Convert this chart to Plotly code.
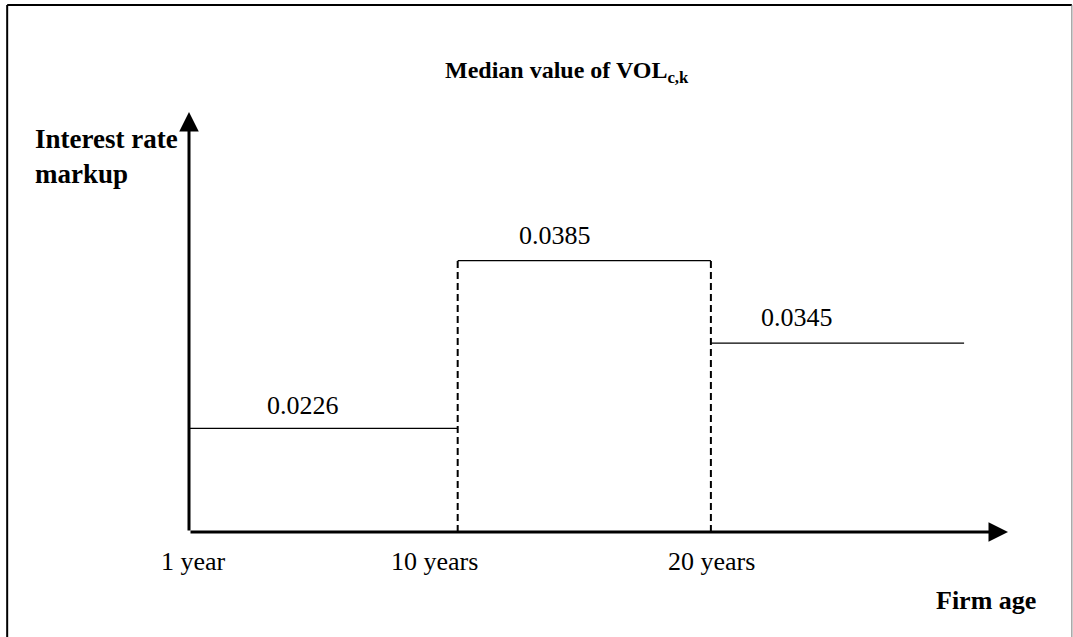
import plotly.graph_objects as go

# ---- data (schematic step chart) ----
age_labels = ["1 year", "10 years", "20 years"]
segment_edges = [0, 1.04, 2.02, 3.0]     # schematic positions of segment boundaries
median_vol = [0.0226, 0.0385, 0.0345]    # printed values
drawn_level = [0.0147, 0.0385, 0.0268]   # schematic heights as drawn in the picture
x_axis_end = 3.17
y_axis_end = 0.0596

FONT = "Liberation Serif"
label_dx = [-20, -29, -40]
label_dy = [23, 25, 26]
tick_dx = [4, -23, 1]

fig = go.Figure()

# horizontal segments
for i, lvl in enumerate(drawn_level):
    fig.add_trace(go.Scatter(
        x=[segment_edges[i], segment_edges[i + 1]], y=[lvl, lvl],
        mode="lines", line=dict(color="black", width=1.3),
        hoverinfo="skip", showlegend=False))

# dashed verticals around the middle segment
for xe in (segment_edges[1], segment_edges[2]):
    fig.add_trace(go.Scatter(
        x=[xe, xe], y=[0, drawn_level[1]],
        mode="lines", line=dict(color="black", width=2, dash="7px,4px"),
        hoverinfo="skip", showlegend=False))

annotations = []
# axes with arrowheads
annotations.append(dict(x=x_axis_end, y=0, ax=0, ay=0, xref="x", yref="y",
                        axref="x", ayref="y", showarrow=True, arrowhead=2,
                        arrowsize=1.3, arrowwidth=3, arrowcolor="black", text=""))
annotations.append(dict(x=0, y=y_axis_end, ax=0, ay=0, xref="x", yref="y",
                        axref="x", ayref="y", showarrow=True, arrowhead=2,
                        arrowsize=1.3, arrowwidth=3, arrowcolor="black", text=""))

# value labels
for i, v in enumerate(median_vol):
    xm = (segment_edges[i] + segment_edges[i + 1]) / 2
    annotations.append(dict(x=xm, y=drawn_level[i], xref="x", yref="y",
                            text=f"{v:.4f}", showarrow=False,
                            xshift=label_dx[i], yshift=label_dy[i],
                            font=dict(family=FONT, size=26, color="black")))

# age tick labels
for i, lab in enumerate(age_labels):
    annotations.append(dict(x=segment_edges[i], y=0, xref="x", yref="y",
                            text=lab, showarrow=False, xshift=tick_dx[i], yshift=-29,
                            font=dict(family=FONT, size=26, color="black")))

# axis titles
annotations.append(dict(x=1.0, y=0, xref="paper", yref="paper", text="<b>Firm age</b>",
                        showarrow=False, xanchor="right", yanchor="middle",
                        yshift=-68, xshift=30,
                        font=dict(family=FONT, size=26, color="black")))
annotations.append(dict(x=-0.19, y=1.0, xref="paper", yref="paper",
                        text="<b>Interest rate<br>markup</b>", showarrow=False,
                        xanchor="left", yanchor="top", align="left", yshift=-10,
                        font=dict(family=FONT, size=27, color="black")))
# title
annotations.append(dict(x=0.462, y=1.0, xref="paper", yref="paper",
                        text="<b>Median value of VOL<sub>c,k</sub></b>", showarrow=False,
                        yanchor="middle", yshift=40,
                        font=dict(family=FONT, size=24, color="black")))

shapes = [
    dict(type="line", xref="paper", yref="paper", x0=-0.222, x1=-0.222, y0=-0.3, y1=1.255,
         line=dict(color="black", width=2)),
    dict(type="line", xref="paper", yref="paper", x0=-0.222, x1=1.078, y0=1.255, y1=1.255,
         line=dict(color="black", width=2)),
    dict(type="line", xref="paper", yref="paper", x0=1.078, x1=1.078, y0=-0.3, y1=1.255,
         line=dict(color="#777777", width=1)),
]

fig.update_layout(
    width=1073, height=637,
    margin=dict(l=189, r=65, t=112, b=105),
    paper_bgcolor="white", plot_bgcolor="white",
    xaxis=dict(range=[0, x_axis_end], visible=False, fixedrange=True),
    yaxis=dict(range=[0, y_axis_end], visible=False, fixedrange=True),
    annotations=annotations, shapes=shapes,
    showlegend=False,
)

fig.write_html("out.html", config={"displayModeBar": False},
               post_script="document.body.style.margin='0';document.body.style.overflow='hidden';")
